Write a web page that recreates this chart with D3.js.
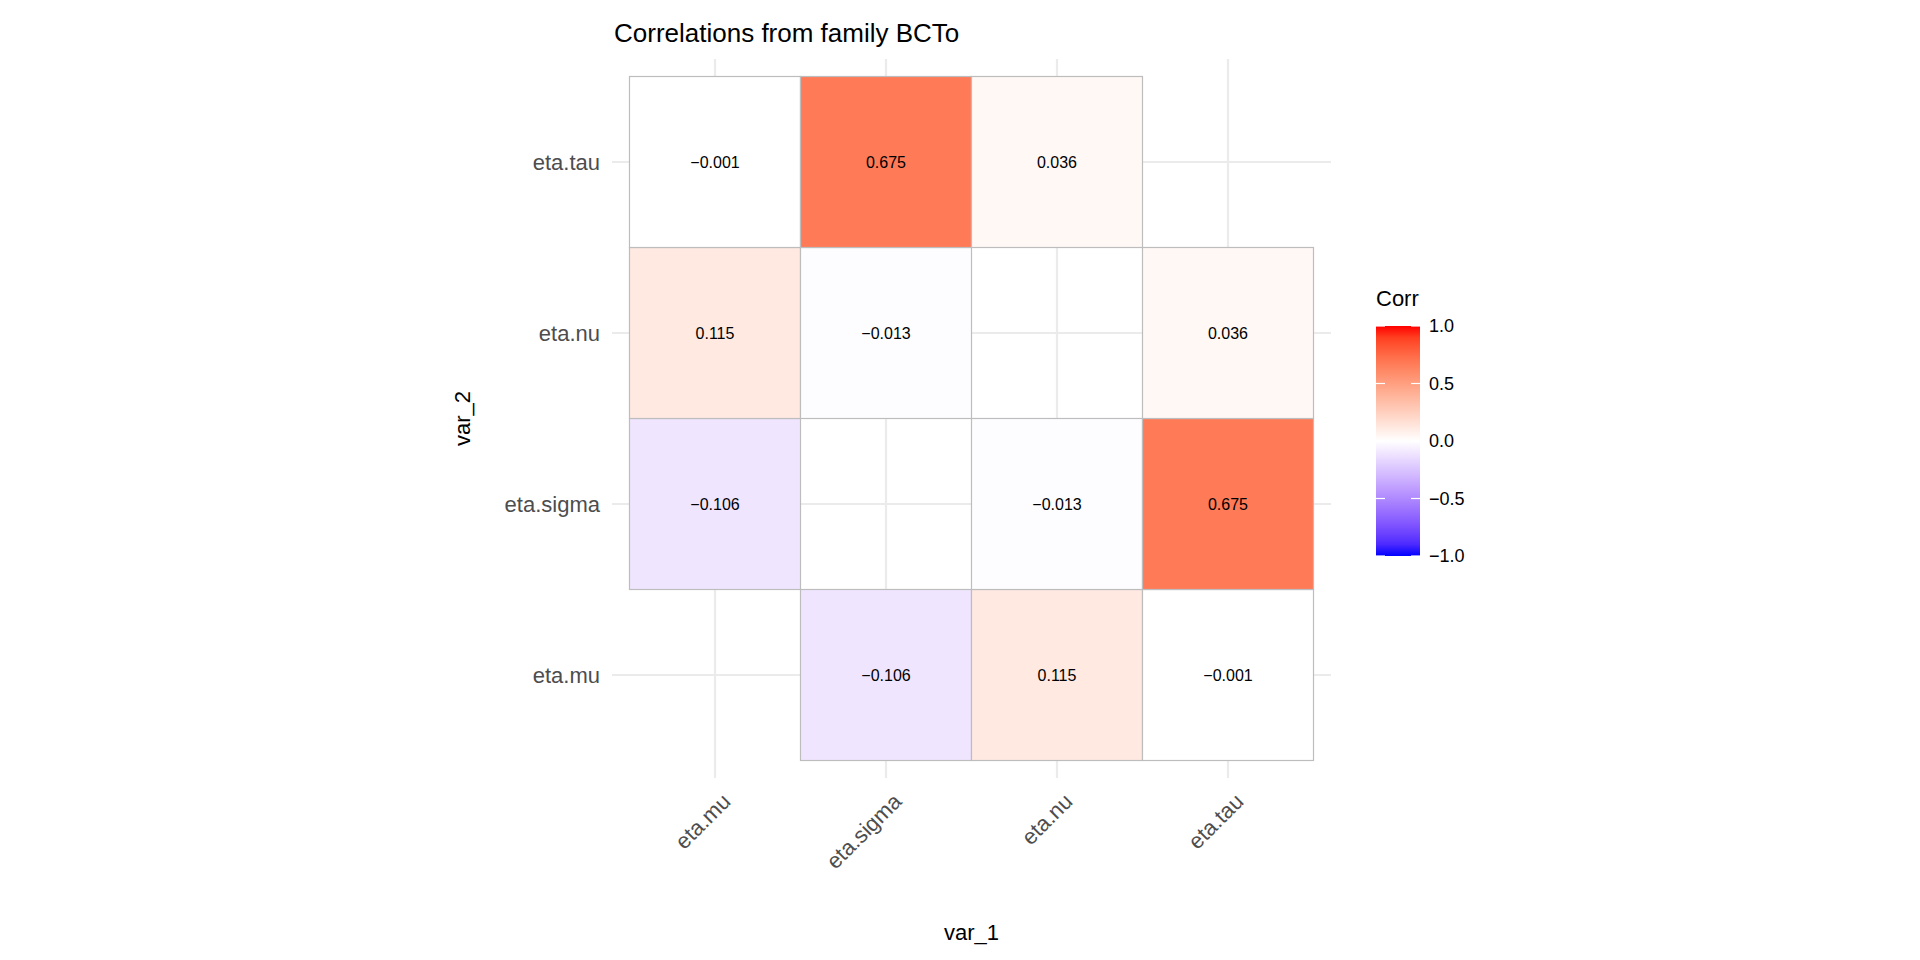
<!DOCTYPE html>
<html><head><meta charset="utf-8">
<script src="https://cdn.jsdelivr.net/npm/d3@7"></script>
<style>body{margin:0;background:#fff;font-family:"Liberation Sans",Arial,sans-serif}</style>
</head><body>
<svg id="chart" width="1920" height="960"></svg>
<script>
var vars = ["eta.mu", "eta.sigma", "eta.nu", "eta.tau"];
var var1 = ["eta.sigma","eta.nu","eta.tau", "eta.mu","eta.nu","eta.tau", "eta.mu","eta.sigma","eta.tau", "eta.mu","eta.sigma","eta.nu"];
var var2 = ["eta.mu","eta.mu","eta.mu", "eta.sigma","eta.sigma","eta.sigma", "eta.nu","eta.nu","eta.nu", "eta.tau","eta.tau","eta.tau"];
var corr = [-0.106,0.115,-0.001, -0.106,-0.013,0.675, 0.115,-0.013,0.036, -0.001,0.675,0.036];
var legendTicks = [1.0, 0.5, 0.0, -0.5, -1.0];

var svg = d3.select("#chart");
var px0 = 612, px1 = 1331, py0 = 59, py1 = 778;
var pad = 17.5;
var x = d3.scaleBand().domain(vars).range([px0 + pad, px1 - pad]);
var y = d3.scaleBand().domain(vars.slice().reverse()).range([py0 + pad, py1 - pad]);

// grid
var grid = svg.append("g");
vars.forEach(function(v) {
  grid.append("line").attr("x1", x(v) + x.bandwidth()/2).attr("x2", x(v) + x.bandwidth()/2)
    .attr("y1", py0).attr("y2", py1).attr("stroke", "#ebebeb").attr("stroke-width", 2.2);
  grid.append("line").attr("y1", y(v) + y.bandwidth()/2).attr("y2", y(v) + y.bandwidth()/2)
    .attr("x1", px0).attr("x2", px1).attr("stroke", "#ebebeb").attr("stroke-width", 2.2);
});

var color = function(v) {
  return v >= 0 ? d3.interpolateLab("#ffffff", "#ff0000")(v) : d3.interpolateLab("#ffffff", "#0000ff")(-v);
};

var cells = corr.map(function(c, i) { return {a: var1[i], b: var2[i], v: c}; });
svg.append("g").selectAll("rect").data(cells).enter().append("rect")
  .attr("x", function(d) { return x(d.a); }).attr("y", function(d) { return y(d.b); })
  .attr("width", x.bandwidth()).attr("height", y.bandwidth())
  .attr("fill", function(d) { return color(d.v); })
  .attr("stroke", "#bdbdbd").attr("stroke-width", 1.2);
svg.append("g").selectAll("text").data(cells).enter().append("text")
  .attr("x", function(d) { return x(d.a) + x.bandwidth()/2; })
  .attr("y", function(d) { return y(d.b) + y.bandwidth()/2; })
  .attr("text-anchor", "middle").attr("dy", "0.35em").attr("font-size", 16).attr("fill", "#000")
  .text(function(d) { return d3.format(".3f")(d.v); });

// axis labels
vars.forEach(function(v) {
  svg.append("text").attr("x", 600).attr("y", y(v) + y.bandwidth()/2).attr("dy", "0.35em")
    .attr("text-anchor", "end").attr("font-size", 22).attr("fill", "#4d4d4d").text(v);
  var cx = x(v) + x.bandwidth()/2;
  svg.append("text").attr("transform", "translate(" + (cx + 6) + "," + 792 + ") rotate(-45)")
    .attr("text-anchor", "end").attr("dy", "0.7em").attr("font-size", 22).attr("fill", "#4d4d4d").text(v);
});
svg.append("text").attr("x", (px0 + px1)/2).attr("y", 940).attr("text-anchor", "middle")
  .attr("font-size", 22).text("var_1");
svg.append("text").attr("transform", "translate(470," + (py0 + py1)/2 + ") rotate(-90)")
  .attr("text-anchor", "middle").attr("font-size", 22).text("var_2");
svg.append("text").attr("x", 614).attr("y", 42).attr("font-size", 26).text("Correlations from family BCTo");

// legend
var lx = 1376, lw = 44, ly0 = 326, ly1 = 556;
var ls = d3.scaleLinear().domain([1, -1]).range([ly0, ly1]);
var defs = svg.append("defs");
var grad = defs.append("linearGradient").attr("id", "lg").attr("x1", 0).attr("x2", 0).attr("y1", 0).attr("y2", 1);
d3.range(0, 21).forEach(function(i) {
  var v = 1 - i / 10;
  grad.append("stop").attr("offset", (i / 20)).attr("stop-color", color(v));
});
svg.append("text").attr("x", lx).attr("y", 306).attr("font-size", 22).text("Corr");
svg.append("rect").attr("x", lx).attr("y", ly0).attr("width", lw).attr("height", ly1 - ly0).attr("fill", "url(#lg)");
legendTicks.forEach(function(t) {
  svg.append("line").attr("x1", lx).attr("x2", lx + 9).attr("y1", ls(t)).attr("y2", ls(t)).attr("stroke", "#fff").attr("stroke-width", 1.2);
  svg.append("line").attr("x1", lx + lw - 9).attr("x2", lx + lw).attr("y1", ls(t)).attr("y2", ls(t)).attr("stroke", "#fff").attr("stroke-width", 1.2);
  svg.append("text").attr("x", lx + lw + 9).attr("y", ls(t)).attr("dy", "0.35em").attr("font-size", 18)
    .text(d3.format(".1f")(t));
});
</script>
</body></html>
